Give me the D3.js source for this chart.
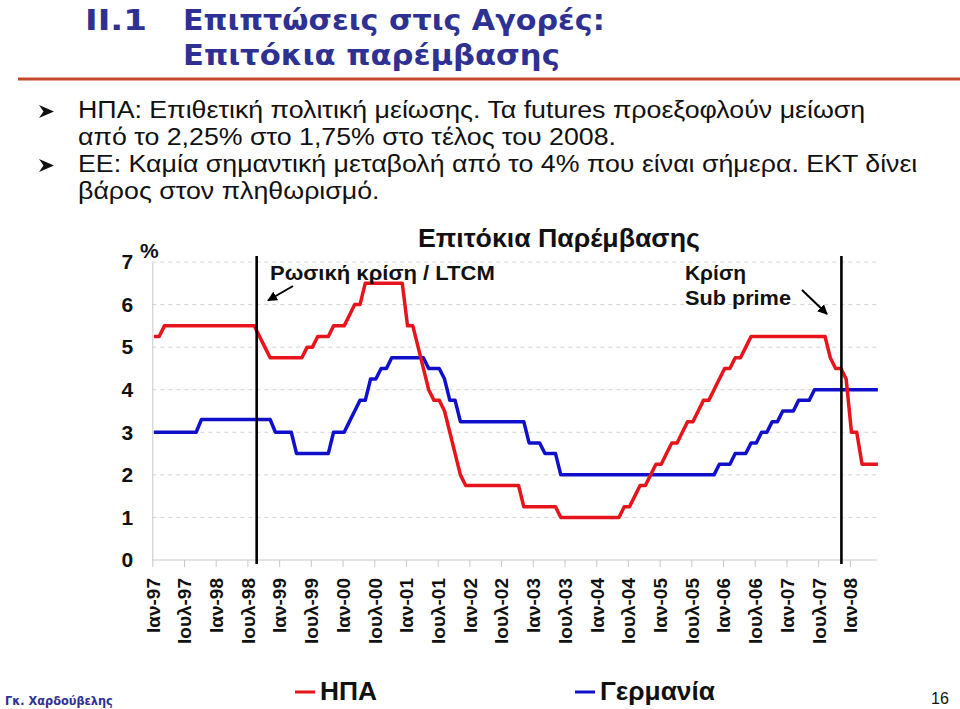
<!DOCTYPE html>
<html>
<head>
<meta charset="utf-8">
<script src="https://cdn.jsdelivr.net/npm/d3@7/dist/d3.min.js"></script>
<style>
  html, body { margin: 0; padding: 0; background: #ffffff; }
  svg { display: block; }
</style>
</head>
<body>
<svg id="chart" width="960" height="709"></svg>
<script>
// ---------- DATA ----------
const tickLabels = ["Ιαν-97","Ιουλ-97","Ιαν-98","Ιουλ-98","Ιαν-99","Ιουλ-99","Ιαν-00","Ιουλ-00",
  "Ιαν-01","Ιουλ-01","Ιαν-02","Ιουλ-02","Ιαν-03","Ιουλ-03","Ιαν-04","Ιουλ-04","Ιαν-05","Ιουλ-05",
  "Ιαν-06","Ιουλ-06","Ιαν-07","Ιουλ-07","Ιαν-08"];
const yTicks = [0,1,2,3,4,5,6,7];

// Monthly values, Jan 1997 .. Jun 2008
const usRates = [
  5.25,5.25,5.5,5.5,5.5,5.5,5.5,5.5,5.5,5.5,5.5,5.5,            // 1997
  5.5,5.5,5.5,5.5,5.5,5.5,5.5,5.5,5.25,5.0,4.75,4.75,           // 1998
  4.75,4.75,4.75,4.75,4.75,5.0,5.0,5.25,5.25,5.25,5.5,5.5,      // 1999
  5.5,5.75,6.0,6.0,6.5,6.5,6.5,6.5,6.5,6.5,6.5,6.5,             // 2000
  5.5,5.5,5.0,4.5,4.0,3.75,3.75,3.5,3.0,2.5,2.0,1.75,           // 2001
  1.75,1.75,1.75,1.75,1.75,1.75,1.75,1.75,1.75,1.75,1.25,1.25,  // 2002
  1.25,1.25,1.25,1.25,1.25,1.0,1.0,1.0,1.0,1.0,1.0,1.0,         // 2003
  1.0,1.0,1.0,1.0,1.0,1.25,1.25,1.5,1.75,1.75,2.0,2.25,         // 2004
  2.25,2.5,2.75,2.75,3.0,3.25,3.25,3.5,3.75,3.75,4.0,4.25,      // 2005
  4.5,4.5,4.75,4.75,5.0,5.25,5.25,5.25,5.25,5.25,5.25,5.25,     // 2006
  5.25,5.25,5.25,5.25,5.25,5.25,5.25,5.25,4.75,4.5,4.5,4.25,    // 2007
  3.0,3.0,2.25,2.25,2.25,2.25                                   // 2008
];
const deRates = [
  3.0,3.0,3.0,3.0,3.0,3.0,3.0,3.0,3.0,3.3,3.3,3.3,              // 1997
  3.3,3.3,3.3,3.3,3.3,3.3,3.3,3.3,3.3,3.3,3.3,3.0,              // 1998
  3.0,3.0,3.0,2.5,2.5,2.5,2.5,2.5,2.5,2.5,3.0,3.0,              // 1999
  3.0,3.25,3.5,3.75,3.75,4.25,4.25,4.5,4.5,4.75,4.75,4.75,      // 2000
  4.75,4.75,4.75,4.75,4.5,4.5,4.5,4.25,3.75,3.75,3.25,3.25,     // 2001
  3.25,3.25,3.25,3.25,3.25,3.25,3.25,3.25,3.25,3.25,3.25,2.75,  // 2002
  2.75,2.75,2.5,2.5,2.5,2.0,2.0,2.0,2.0,2.0,2.0,2.0,            // 2003
  2.0,2.0,2.0,2.0,2.0,2.0,2.0,2.0,2.0,2.0,2.0,2.0,              // 2004
  2.0,2.0,2.0,2.0,2.0,2.0,2.0,2.0,2.0,2.0,2.0,2.25,             // 2005
  2.25,2.25,2.5,2.5,2.5,2.75,2.75,3.0,3.0,3.25,3.25,3.5,        // 2006
  3.5,3.5,3.75,3.75,3.75,4.0,4.0,4.0,4.0,4.0,4.0,4.0,           // 2007
  4.0,4.0,4.0,4.0,4.0,4.0                                       // 2008
];
const seriesNames = ["ΗΠΑ", "Γερμανία"];
// crisis markers (position in months since Jan 1997)
const events = [
  { name: "Ρωσική κρίση / LTCM", month: 19.75 },
  { name: "Κρίση Sub prime", month: 130.4 }
];

const bullets = [
  "ΗΠΑ: Επιθετική πολιτική μείωσης. Τα futures προεξοφλούν μείωση",
  "από το 2,25% στο 1,75% στο τέλος του 2008.",
  "ΕΕ: Καμία σημαντική μεταβολή από το 4% που είναι σήμερα. ΕΚΤ δίνει",
  "βάρος στον πληθωρισμό."
];

// ---------- DRAW ----------
const svg = d3.select("#chart");
const navy = "#2e3192";
const red = "#e8141c";
const blue = "#1010cc";

function makeText(sel, str, attrs) {
  const t = sel.append("text").attr("x", 0).attr("y", 0).text(str);
  Object.entries(attrs).forEach(([k, v]) => t.attr(k, v));
  return t;
}
// helper: text fitted to a width by horizontal scaling
function fitText(sel, tx, ty, width, str, attrs) {
  const t = makeText(sel, str, attrs);
  const w = t.node().getComputedTextLength();
  const s = w > 0 ? width / w : 1;
  t.attr("transform", `translate(${tx},${ty}) scale(${s},1)`);
  return t;
}

const titleAttrs = { "fill": navy, "font-family": "DejaVu Sans, Verdana, sans-serif",
  "font-weight": "bold", "font-size": 29 };
fitText(svg, 85, 30, 62, "II.1", titleAttrs);
fitText(svg, 183, 30, 422, "Επιπτώσεις στις Αγορές:", titleAttrs);
fitText(svg, 183, 65, 377, "Επιτόκια παρέμβασης", titleAttrs);
svg.append("line").attr("x1", 18).attr("x2", 960).attr("y1", 79).attr("y2", 79)
  .attr("stroke", "#c4482a").attr("stroke-width", 3);

// Bullets: one common horizontal condensation (narrow face), set by the longest line
const bulletY = [118, 145, 172, 199];
const bulletAttrs = { "fill": "#111", "font-family": "Liberation Sans, Arial, sans-serif", "font-size": 23 };
const bTexts = bullets.map(t => makeText(svg, t, bulletAttrs));
const bScale = (918 - 78) / bTexts[2].node().getComputedTextLength();
bTexts.forEach((t, i) => {
  const yy = bulletY[i];
  t.attr("transform", `translate(78,${yy}) scale(${bScale},1)`);
  if (i === 0 || i === 2) {
    svg.append("path").attr("d", `M39,${yy-13} L54,${yy-6.5} L39,${yy} L43.5,${yy-6.5} Z`)
      .attr("fill", "#111");
  }
});

// Chart geometry
const x = d3.scaleLinear().domain([0, 137]).range([152.3, 876.3]);
const y = d3.scaleLinear().domain([0, 7]).range([560, 262]);
const xEnd = 137.1;
const off = 0.3;

const g = svg.append("g");

// gridlines
g.selectAll("line.grid").data(yTicks.filter(d => d > 0)).join("line")
  .attr("class", "grid")
  .attr("x1", x(0)).attr("x2", x(xEnd))
  .attr("y1", d => y(d)).attr("y2", d => y(d))
  .attr("stroke", "#d4d4d4").attr("stroke-width", 1).attr("stroke-dasharray", "4,4");

// y axis
const yAxis = d3.axisLeft(y).tickValues(yTicks).tickSize(0).tickPadding(19).tickFormat(d3.format("d"));
const ya = g.append("g").attr("transform", `translate(${x(0)},0)`).call(yAxis);
ya.select(".domain").attr("stroke", "#c8c8c8");
ya.selectAll("text").attr("font-family", "Liberation Sans, Arial, sans-serif")
  .attr("font-weight", "bold").attr("font-size", 21).attr("fill", "#111");

// x axis
const xTickVals = tickLabels.map((d, i) => i * 6);
const xAxis = d3.axisBottom(x).tickValues(xTickVals).tickSize(7).tickFormat((d, i) => tickLabels[i]);
const xa = g.append("g").attr("transform", `translate(0,${y(0)})`).call(xAxis);
xa.select(".domain").attr("stroke", "#c8c8c8").attr("d", `M${x(0)},0H${x(xEnd)}`);
xa.selectAll(".tick line").attr("stroke", "#c8c8c8");
xa.selectAll("text")
  .attr("font-family", "Liberation Sans, Arial, sans-serif").attr("font-weight", "bold")
  .attr("font-size", 19).attr("fill", "#111")
  .attr("text-anchor", "end")
  .attr("transform", "rotate(-90)")
  .attr("x", -18).attr("y", 0).attr("dy", "0.36em");

// "%" label
svg.append("text").attr("x", 140).attr("y", 258)
  .attr("font-family", "Liberation Sans, Arial, sans-serif").attr("font-weight", "bold")
  .attr("font-size", 21).attr("fill", "#111").text("%");

// chart title
fitText(svg, 418, 247, 282, "Επιτόκια Παρέμβασης",
  { "font-family": "Liberation Sans, Arial, sans-serif", "font-weight": "bold", "font-size": 25, "fill": "#111" });

// lines
const lineGen = d3.line().x((d, i) => x(i + off)).y(d => y(d));
g.append("path").datum(deRates).attr("d", lineGen)
  .attr("fill", "none").attr("stroke", blue).attr("stroke-width", 3.5).attr("stroke-linejoin", "round");
g.append("path").datum(usRates).attr("d", lineGen)
  .attr("fill", "none").attr("stroke", red).attr("stroke-width", 3.5).attr("stroke-linejoin", "round");

// event vertical lines
g.selectAll("line.ev").data(events).join("line").attr("class", "ev")
  .attr("x1", d => x(d.month)).attr("x2", d => x(d.month))
  .attr("y1", 256).attr("y2", 564)
  .attr("stroke", "#000").attr("stroke-width", 2.6);

// arrow marker
svg.append("defs").append("marker").attr("id", "arr")
  .attr("viewBox", "0 0 10 10").attr("refX", 9).attr("refY", 5)
  .attr("markerWidth", 5).attr("markerHeight", 5).attr("orient", "auto")
  .append("path").attr("d", "M0,0 L10,5 L0,10 Z").attr("fill", "#000");

// annotations
const annAttrs = { "font-family": "Liberation Sans, Arial, sans-serif", "font-weight": "bold",
  "font-size": 20, "fill": "#111" };
fitText(svg, 270, 280, 225, "Ρωσική κρίση / LTCM", annAttrs);
svg.append("line").attr("x1", 293).attr("y1", 286).attr("x2", 268).attr("y2", 300.5)
  .attr("stroke", "#000").attr("stroke-width", 2).attr("marker-end", "url(#arr)");

fitText(svg, 685, 280, 61, "Κρίση", annAttrs);
fitText(svg, 685, 305, 106, "Sub prime", annAttrs);
svg.append("line").attr("x1", 802).attr("y1", 290).attr("x2", 827).attr("y2", 314)
  .attr("stroke", "#000").attr("stroke-width", 2).attr("marker-end", "url(#arr)");

// legend
const legend = [
  { name: seriesNames[0], color: red, x: 295, w: 57 },
  { name: seriesNames[1], color: blue, x: 575, w: 115 }
];
legend.forEach(l => {
  svg.append("line").attr("x1", l.x).attr("x2", l.x + 20).attr("y1", 692).attr("y2", 692)
    .attr("stroke", l.color).attr("stroke-width", 3);
  fitText(svg, l.x + 25, 700, l.w, l.name,
    { "font-family": "Liberation Sans, Arial, sans-serif", "font-weight": "bold", "font-size": 25, "fill": "#111" });
});

// footer
fitText(svg, 5, 705, 108, "Γκ. Χαρδούβελης",
  { "fill": navy, "font-family": "DejaVu Sans, Verdana, sans-serif", "font-weight": "bold", "font-size": 13 });
svg.append("text").attr("x", 931).attr("y", 704).attr("fill", "#111")
  .attr("font-family", "Liberation Sans, Arial, sans-serif")
  .attr("font-size", 16).text("16");
</script>
</body>
</html>
